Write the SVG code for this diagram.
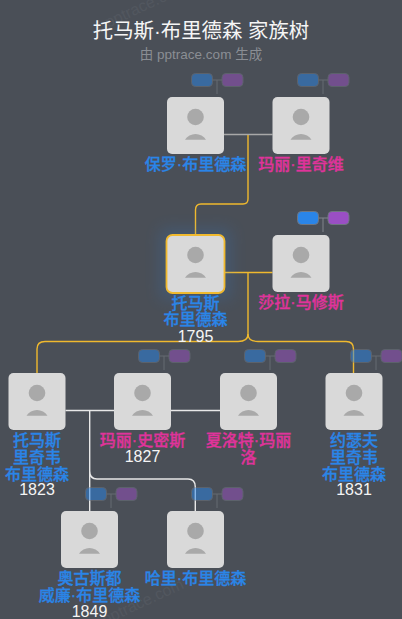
<svg xmlns="http://www.w3.org/2000/svg" width="402" height="619" viewBox="0 0 402 619">
<style>
text{font-family:"Liberation Sans","Noto Sans CJK SC",sans-serif;text-anchor:middle}
.t{font-size:20.400px;fill:#f5f5f5}
.s{font-size:13.500px;fill:#8a8e94}
.m,.f{font-size:16px;font-weight:500;stroke-width:.3px}
.m{fill:#2a85e8;stroke:#2a85e8}.f{fill:#e0339b;stroke:#e0339b}
.y{font-size:16px;fill:#f5f5f5}
.w{font-size:16px;fill:#52575f;text-anchor:start}
.card{fill:#d9d9d9}
.av{fill:#a9a9a9}
.l{fill:none;stroke-width:1.400}
.gy{stroke:#f0b92e}.wh{stroke:#e8e8e8}.gr{stroke:#a8a8a8}
.b{fill:#2a85e8;stroke:#6f7680;stroke-width:1}.p{fill:#9a4fc4;stroke:#6f7680;stroke-width:1}
.bl{fill:none;stroke:#80858c;stroke-width:1}
.dim{opacity:.5}
</style>
<defs>
<g id="avatar"><circle cx="28.500" cy="20" r="8.300" class="av"/><path d="M18 42.700A12.500 12.500 0 0 1 39 42.700Z" class="av"/></g>
<g id="badge"><rect x="0.500" y="0.500" width="21" height="13" rx="4" class="b"/><rect x="31" y="0.500" width="21" height="13" rx="4" class="p"/><path d="M21.500 7H31M26 7V21" class="bl"/></g>
<filter id="glow" x="-50%" y="-50%" width="200%" height="200%"><feGaussianBlur stdDeviation="8"/></filter>
</defs>
<rect width="402" height="619" fill="#4a4f57"/>
<text class="w" transform="translate(108 28) rotate(-25)">pptrace.com</text>
<text class="w" transform="translate(105 625) rotate(-25)">pptrace.com</text>
<text class="t" x="201" y="38">托马斯·布里德森 家族树</text>
<text class="s" x="201" y="58.500">由 pptrace.com 生成</text>
<g id="connectors">
<path class="l gr" d="M224 134.500H272.500"/>
<path class="l gy" d="M248 135V199Q248 204 243 204H201Q195.500 204 195.500 210V234"/>
<path class="l gy" d="M225 272.500H272.500M248 272.500V334Q248 341.500 238 341.500H45Q37 341.500 37 349V373"/>
<path class="l gy" d="M248 334Q248 341.500 258 341.500H346Q353.500 341.500 353.500 349V373"/>
<path class="l wh" d="M65.500 410.500H114M171 410.500H220M89.700 410.500V511M89.700 471Q89.700 479 97 479H188Q195.300 479 195.300 487V511"/>
</g>
<g id="n-paul"><use href="#badge" x="191" y="73" class="dim"/><rect class="card" x="167" y="97" width="57" height="57" rx="5"/><use href="#avatar" x="167" y="97"/><text class="m" x="195.500" y="170">保罗·布里德森</text></g>
<g id="n-mary"><use href="#badge" x="297" y="73" class="dim"/><rect class="card" x="272.500" y="97" width="57" height="57" rx="5"/><use href="#avatar" x="272.500" y="97"/><text class="f" x="301" y="170">玛丽·里奇维</text></g>
<g id="n-thomas"><rect x="160" y="229" width="71" height="70" fill="#2a85e8" opacity=".18" filter="url(#glow)"/><rect class="card" x="166.500" y="235" width="58" height="58" rx="6" stroke="#f0b92e" stroke-width="1.800"/><use href="#avatar" x="167" y="235"/><text class="m" x="195.500" y="308.500">托马斯</text><text class="m" x="195.500" y="324.500">布里德森</text><text class="y" x="195.500" y="341.500">1795</text></g>
<g id="n-sara"><use href="#badge" x="297" y="211"/><rect class="card" x="272.500" y="235" width="57" height="57" rx="5"/><use href="#avatar" x="272.500" y="235"/><text class="f" x="301" y="308">莎拉·马修斯</text></g>
<g id="n-thomas2"><rect class="card" x="8.500" y="373" width="57" height="57" rx="5"/><use href="#avatar" x="8.500" y="373"/><text class="m" x="37" y="446">托马斯</text><text class="m" x="37" y="462.500">里奇韦</text><text class="m" x="37" y="479.500">布里德森</text><text class="y" x="37" y="495">1823</text></g>
<g id="n-mary2"><use href="#badge" x="138" y="349" class="dim"/><rect class="card" x="114" y="373" width="57" height="57" rx="5"/><use href="#avatar" x="114" y="373"/><text class="f" x="142.500" y="446">玛丽·史密斯</text><text class="y" x="142.500" y="461.500">1827</text></g>
<g id="n-charlotte"><use href="#badge" x="244" y="349" class="dim"/><rect class="card" x="220" y="373" width="57" height="57" rx="5"/><use href="#avatar" x="220" y="373"/><text class="f" x="248.500" y="446">夏洛特·玛丽</text><text class="f" x="248.500" y="462.500">洛</text></g>
<g id="n-joseph"><use href="#badge" x="350" y="349" class="dim"/><rect class="card" x="325.500" y="373" width="57" height="57" rx="5"/><use href="#avatar" x="325.500" y="373"/><text class="m" x="354" y="446">约瑟夫</text><text class="m" x="354" y="462.500">里奇韦</text><text class="m" x="354" y="479.500">布里德森</text><text class="y" x="354" y="495">1831</text></g>
<g id="n-augustus"><use href="#badge" x="85" y="487" class="dim"/><rect class="card" x="61" y="511" width="57" height="57" rx="5"/><use href="#avatar" x="61" y="511"/><text class="m" x="89.500" y="583.500">奥古斯都</text><text class="m" x="89.500" y="600.500">威廉·布里德森</text><text class="y" x="89.500" y="616.500">1849</text></g>
<g id="n-harry"><use href="#badge" x="191" y="487" class="dim"/><rect class="card" x="167" y="511" width="57" height="57" rx="5"/><use href="#avatar" x="167" y="511"/><text class="m" x="195.500" y="583.500">哈里·布里德森</text></g>
</svg>
